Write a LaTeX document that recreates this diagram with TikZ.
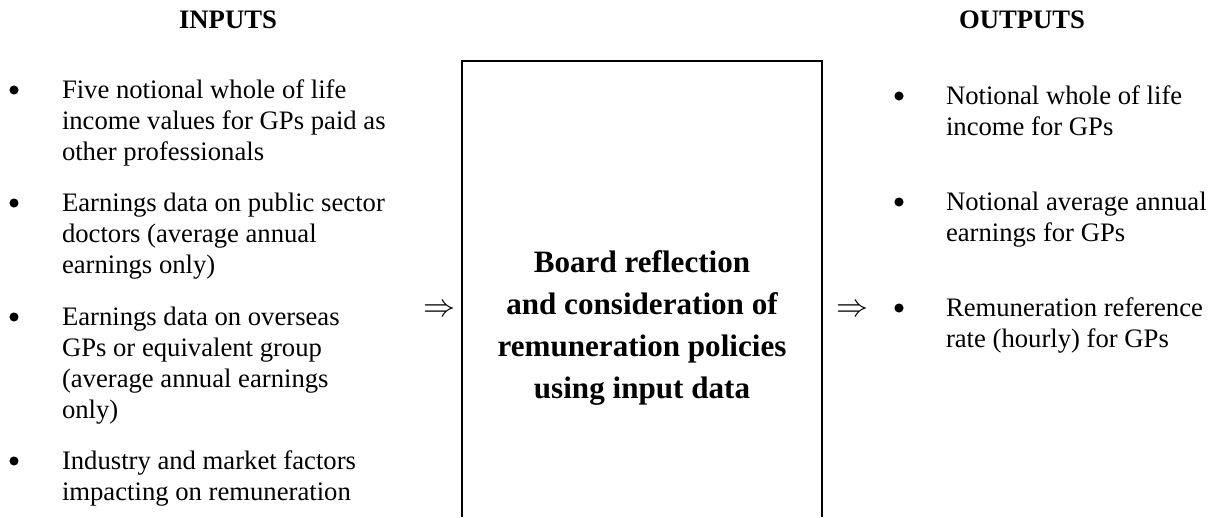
\documentclass[tikz,border=0pt]{standalone}
\usepackage{fontspec}
\setmainfont{Liberation Serif}
\begin{document}
\begin{tikzpicture}[x=0.45pt,y=-0.45pt,
  every node/.style={inner sep=0pt,outer sep=0pt},
  head/.style={anchor=base,font=\fontsize{12pt}{14pt}\selectfont\bfseries},
  item/.style={anchor=base west,align=left,font=\fontsize{12pt}{13.95pt}\selectfont},
  bul/.style={circle,fill=black,minimum size=4.1pt},
  imp/.style={anchor=base,font=\fontsize{13.5pt}{14pt}\selectfont},
  boxline/.style={line width=0.9pt},
  boxtext/.style={anchor=base,align=center,font=\fontsize{14pt}{18.9pt}\selectfont\bfseries}]
\useasboundingbox (0,0) rectangle (1221,517);
% headings
\node[head] (inh) at (228,28) {INPUTS};
\node[head] (outh) at (1022,28) {OUTPUTS};
% inputs (node placed at baseline of its last line)
\node[bul] (b1) at (14,90) {};
\node[item] (i1) at (62,160) {Five notional whole of life\\income values for GPs paid as\\other professionals};
\node[bul] (b2) at (14,203) {};
\node[item] (i2) at (62,273) {Earnings data on public sector\\doctors (average annual\\earnings only)};
\node[bul] (b3) at (14,317) {};
\node[item] (i3) at (62,418) {Earnings data on overseas\\GPs or equivalent group\\(average annual earnings\\only)};
\node[bul] (b4) at (14,461) {};
\node[item] (i4) at (62,500) {Industry and market factors\\impacting on remuneration};
% implication arrows
\node[imp] (a1) at (439,316) {$\Rightarrow$};
\node[imp] (a2) at (852,316) {$\Rightarrow$};
% box (open at bottom)
\coordinate (bl) at (462,517);
\coordinate (tl) at (462,61);
\coordinate (tr) at (822,61);
\coordinate (br) at (822,517);
\draw[boxline] (bl) -- (tl) -- (tr) -- (br);
\node[boxtext] (bt) at (642,398) {Board reflection\\and consideration of\\remuneration policies\\using input data};
% outputs
\node[bul] (c1) at (899,96) {};
\node[item] (o1) at (946,135) {Notional whole of life\\income for GPs};
\node[bul] (c2) at (899,202) {};
\node[item] (o2) at (946,241) {Notional average annual\\earnings for GPs};
\node[bul] (c3) at (899,308) {};
\node[item] (o3) at (946,347) {Remuneration reference\\rate (hourly) for GPs};
\end{tikzpicture}
\end{document}
